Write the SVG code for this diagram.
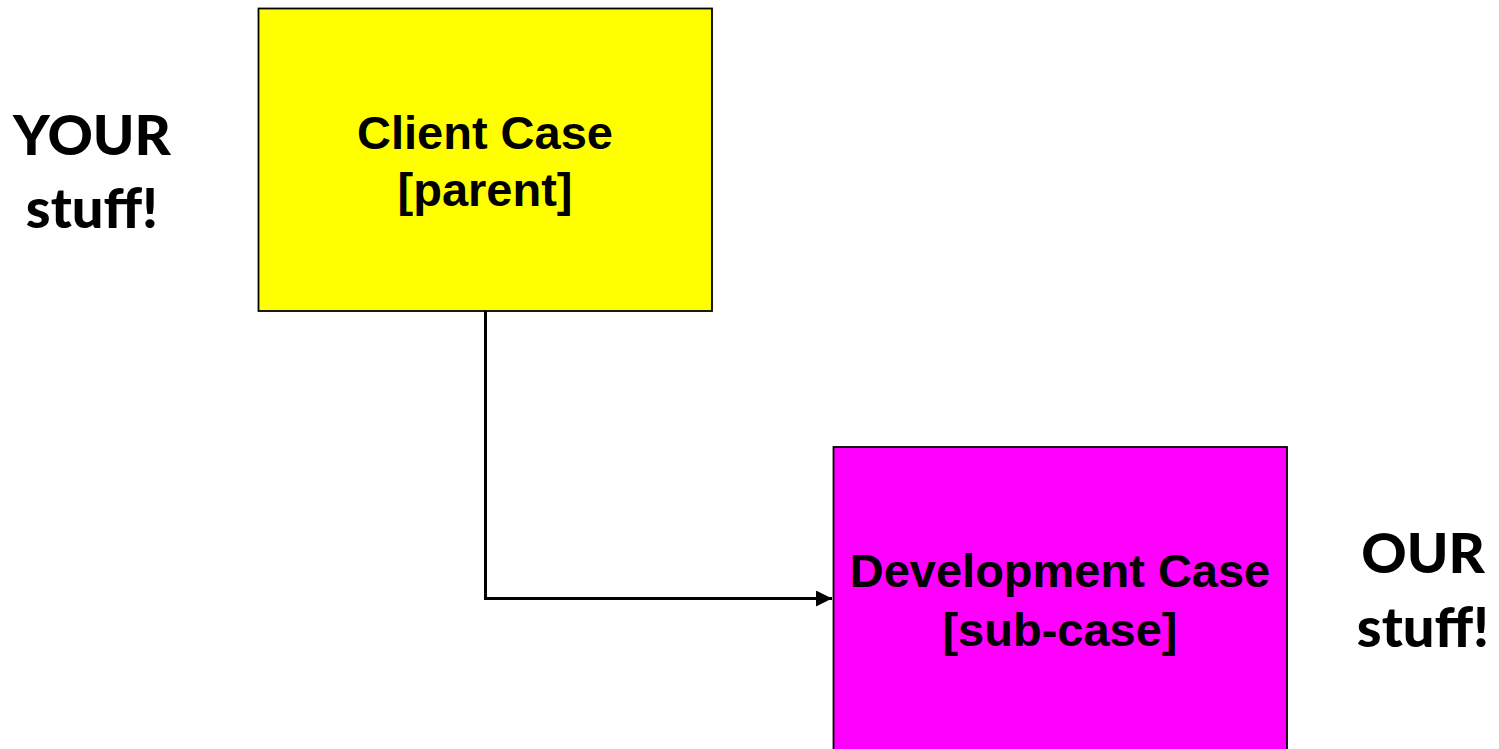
<svg xmlns="http://www.w3.org/2000/svg" width="1499" height="749" viewBox="0 0 1499 749">
<style>
.box{stroke:#000;stroke-width:1.8}
.lbl{font-family:"Liberation Sans",Arial,sans-serif;font-weight:bold;font-size:47px;text-anchor:middle;fill:#000}
.side{font-family:Lato,"Open Sans",sans-serif;font-weight:900;font-size:56px;text-anchor:middle;fill:#000}
.conn{fill:none;stroke:#000;stroke-width:3}
</style>
<defs>
<marker id="arr" markerWidth="18" markerHeight="18" refX="16" refY="8" orient="auto" markerUnits="userSpaceOnUse">
<path d="M0,0 L16,8 L0,16 Z" fill="#000"/>
</marker>
</defs>
<rect width="1499" height="749" fill="#fff"/>
<g id="connectors">
<path class="conn" d="M485.5,311 V598.5 H832" marker-end="url(#arr)"/>
</g>
<g id="client">
<rect class="box" x="258.5" y="8.5" width="453.5" height="302.5" fill="#ffff00"/>
<text class="lbl" x="485" y="149">Client Case</text>
<text class="lbl" x="485" y="206">[parent]</text>
</g>
<g id="development">
<rect class="box" x="833.5" y="447" width="453.5" height="320" fill="#ff00ff"/>
<text class="lbl" x="1060" y="587">Development Case</text>
<text class="lbl" x="1060" y="646">[sub-case]</text>
</g>
<g id="your">
<text class="side" x="92" y="155">YOUR</text>
<text class="side" x="92" y="228">stuff!</text>
</g>
<g id="our">
<text class="side" x="1423" y="573">OUR</text>
<text class="side" x="1423" y="647">stuff!</text>
</g>
</svg>
